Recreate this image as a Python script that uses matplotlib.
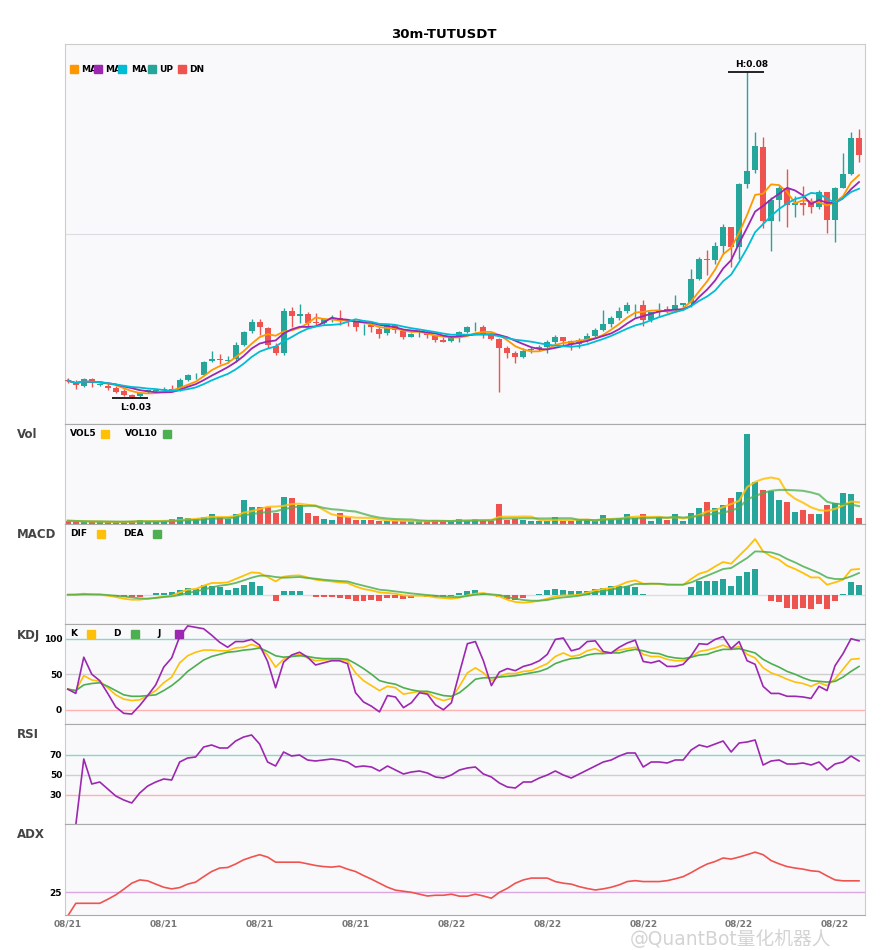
import numpy as np
import pandas as pd
import matplotlib
matplotlib.use("Agg")
import matplotlib.pyplot as plt
from matplotlib.patches import Rectangle

# ---- data (prices in 1e-4 units) ----
opens = np.array([
    326, 322, 317, 328, 318, 317, 314, 309, 303, 301,
    308, 309, 311, 312, 312, 326, 333, 334, 355, 358,
    355, 358, 380, 402, 416, 406, 378, 368, 432, 424,
    428, 415, 414, 420, 421, 418, 415, 407, 410, 404,
    398, 410, 402, 393, 398, 399, 394, 387, 386, 390,
    400, 407, 408, 396, 389, 376, 367, 362, 372, 373,
    377, 385, 393, 386, 382, 388, 394, 403, 412, 421,
    432, 441, 442, 418, 430, 435, 434, 442, 444, 482,
    512, 510, 532, 562, 531, 628, 649, 685, 571, 603,
    622, 595, 598, 600, 593, 615, 572, 622, 643, 698]) / 1e4
closes = np.array([
    325, 318, 328, 322, 320, 314, 308, 303, 300, 306,
    310, 310, 312, 311, 326, 334, 334, 354, 358, 357,
    357, 380, 400, 415, 408, 380, 368, 432, 424, 428,
    414, 414, 420, 421, 418, 417, 407, 408, 408, 397,
    410, 403, 393, 397, 399, 396, 387, 385, 390, 400,
    407, 408, 396, 389, 376, 367, 362, 371, 374, 377,
    385, 393, 386, 381, 388, 394, 403, 412, 421, 432,
    442, 442, 418, 430, 434, 433, 442, 444, 482, 512,
    510, 532, 562, 531, 628, 648, 686, 571, 603, 622,
    595, 599, 595, 593, 615, 572, 622, 643, 698, 672]) / 1e4
highs = np.array([
    329, 326, 329, 329, 322, 322, 317, 312, 305, 308,
    311, 312, 316, 319, 329, 335, 337, 355, 370, 366,
    363, 384, 402, 420, 420, 408, 383, 437, 439, 443,
    430, 429, 422, 426, 434, 420, 417, 413, 413, 407,
    411, 411, 405, 399, 403, 403, 395, 393, 393, 402,
    409, 415, 410, 399, 391, 378, 370, 375, 377, 380,
    388, 396, 393, 388, 391, 398, 406, 434, 425, 439,
    446, 443, 449, 431, 444, 440, 457, 445, 497, 516,
    526, 538, 566, 562, 630, 800, 708, 700, 608, 626,
    651, 610, 625, 606, 618, 616, 623, 675, 707, 712]) / 1e4
lows = np.array([
    322, 312, 316, 316, 317, 311, 306, 302, 298, 300,
    306, 307, 309, 309, 309, 325, 328, 333, 354, 351,
    352, 354, 378, 398, 395, 375, 364, 365, 408, 414,
    408, 409, 410, 416, 411, 409, 402, 396, 400, 391,
    395, 398, 389, 392, 393, 391, 384, 384, 384, 385,
    398, 401, 390, 388, 307, 360, 352, 360, 367, 370,
    367, 381, 379, 372, 375, 385, 392, 401, 408, 418,
    429, 423, 409, 415, 423, 429, 431, 434, 439, 480,
    488, 505, 520, 500, 513, 621, 644, 560, 525, 570,
    562, 577, 580, 583, 590, 552, 539, 621, 642, 661]) / 1e4
volume = np.array([
    33, 27, 23, 20, 23, 20, 20, 20, 33, 43,
    27, 23, 27, 47, 73, 57, 50, 73, 103, 67,
    53, 103, 243, 173, 173, 170, 113, 275, 265, 193,
    113, 83, 53, 43, 113, 67, 43, 43, 43, 33,
    27, 27, 27, 27, 27, 27, 43, 27, 27, 53,
    33, 53, 33, 33, 203, 43, 53, 43, 27, 33,
    33, 73, 33, 33, 40, 43, 27, 93, 50, 60,
    100, 60, 100, 33, 67, 43, 100, 33, 110, 160,
    223, 160, 193, 263, 323, 903, 423, 343, 333, 243,
    223, 123, 143, 103, 103, 193, 213, 313, 303, 63])

# MACD in 1e-4 units
dif = np.array([
    0, 0.3, 1, 0.3, 0, -1, -2.3, -4, -5, -5,
    -4, -3, -2, -1, 2.3, 5, 5.7, 9, 11.7, 11.7,
    12.3, 15.7, 19, 22.3, 21.7, 17.7, 13.3, 18, 19, 19.3,
    17.3, 15, 14, 13.3, 12.3, 11.7, 8.3, 5.7, 4.3, 2.3,
    1.7, 1, -0.7, -1, -1, -1.3, -2.7, -3.3, -4, -3,
    -0.7, 1, 1.7, 0, -1.7, -5, -7.3, -8, -7.3, -6,
    -4, -1.7, -0.7, -0.7, 0, 2, 4.3, 5.7, 6.7, 9.3,
    12.7, 14.3, 11, 11, 10.7, 9.7, 10, 10, 15.7, 21,
    23.3, 28.3, 32.7, 31, 39, 46.7, 55.7, 43.3, 38.3, 35,
    29, 25.7, 21.7, 17.3, 17.3, 10, 12.3, 15, 25, 25.7]) * 1e-4
dea = np.array([
    0, 0, 0.3, 0.3, 0.3, -0.3, -1, -1.7, -2.7, -3.7,
    -4, -3.3, -2.3, -1.7, -0.3, 1.7, 3.3, 5, 7.3, 9,
    10, 11.7, 14.3, 17, 19, 19, 17.7, 17, 17.3, 17.7,
    16.7, 16, 15, 14.3, 13.7, 13.3, 11, 9, 7, 5,
    4.3, 3.3, 2.3, 1.3, 0.5, -0.3, -1, -1.7, -2.3, -2.3,
    -1.3, 0, 0.7, 0.3, -0.3, -2.3, -4, -5.3, -6, -6,
    -5.3, -3.7, -2.7, -2, -1, 0.5, 2.3, 3.7, 5, 6.7,
    8.3, 10.7, 10.7, 11, 11, 10.3, 10, 10, 12.3, 15.7,
    19, 22.3, 25.7, 26.7, 31.7, 36.7, 43.3, 43, 42.3, 40,
    35.7, 32.3, 28.3, 25, 21.7, 17.3, 15.7, 15.7, 18.3, 21.7]) * 1e-4
macd_hist = np.array([
    0, 0, 0.3, 0, 0, -0.5, -2, -2, -2, -2,
    -0.3, 1.3, 2, 3, 5, 7, 5.7, 9.7, 9, 8,
    5, 7, 10, 12.3, 8.3, 0, -6.7, 3.3, 3.3, 3.3,
    0, -2.7, -2.7, -2.7, -3.7, -4.7, -6.7, -6.7, -5.7, -6.7,
    -3.7, -3.7, -4.7, -3.3, -1, -2, -2.3, -2.3, -1, 2,
    4, 5, 2, 0, -2.3, -4.7, -5.7, -3.3, -0.7, 0.7,
    4.3, 6, 5, 3.3, 3.3, 4, 5.7, 6.7, 8.3, 9,
    9, 7.7, 1, 0, 0, -0.7, 0, 0, 7.3, 13.3,
    13.3, 14, 16, 8.3, 19, 23, 26, 0, -6.7, -7.7,
    -13.7, -14.3, -13.7, -14.3, -9.3, -14.7, -6.7, 1, 13, 10]) * 1e-4

k_line = np.array([
    29, 27, 48, 42, 40, 31, 21, 15, 13, 14,
    20, 27, 38, 46, 66, 76, 81, 84, 84, 83,
    83, 87, 88, 92, 88, 77, 60, 71, 75, 78,
    73, 69, 70, 71, 71, 69, 52, 41, 34, 27,
    33, 31, 22, 24, 26, 24, 17, 13, 16, 33,
    52, 59, 52, 41, 47, 51, 51, 54, 55, 60,
    65, 75, 80, 75, 77, 83, 86, 80, 80, 84,
    86, 88, 78, 75, 75, 71, 69, 69, 74, 82,
    84, 87, 91, 86, 89, 78, 73, 59, 52, 48,
    43, 39, 37, 33, 38, 34, 43, 57, 71, 72])
d_line = np.array([
    29, 27, 35, 37, 38, 33, 27, 21, 19, 19,
    20, 21, 27, 34, 43, 54, 62, 70, 75, 78,
    81, 82, 84, 85, 87, 82, 76, 74, 75, 76,
    75, 73, 72, 72, 72, 71, 65, 58, 50, 41,
    38, 36, 31, 28, 26, 26, 23, 20, 19, 24,
    33, 43, 45, 45, 46, 47, 48, 50, 52, 54,
    58, 65, 69, 72, 73, 77, 79, 79, 80, 80,
    83, 85, 83, 80, 79, 75, 73, 72, 74, 77,
    78, 82, 85, 85, 86, 83, 80, 71, 65, 60,
    54, 50, 45, 41, 40, 39, 40, 46, 54, 61])
j_line = np.array([
    29, 23, 74, 50, 41, 23, 4, -5, -6, 6,
    20, 35, 60, 73, 103, 118, 116, 114, 105, 95,
    88, 96, 96, 99, 91, 68, 31, 67, 77, 81,
    74, 63, 66, 69, 69, 65, 24, 11, 5, -3,
    20, 18, 3, 10, 24, 22, 7, 0, 10, 52,
    93, 96, 69, 34, 53, 58, 55, 61, 64, 69,
    78, 99, 101, 83, 86, 96, 97, 82, 80, 88,
    94, 98, 68, 66, 69, 61, 61, 64, 76, 93,
    92, 99, 103, 86, 96, 69, 64, 33, 23, 23,
    19, 19, 18, 16, 33, 27, 62, 79, 100, 97])

rsi = np.array([
    np.nan, 0, 66, 41, 43, 36, 29, 25, 22, 32,
    39, 43, 46, 45, 63, 67, 68, 78, 80, 77,
    77, 84, 88, 90, 81, 63, 59, 73, 69, 70,
    65, 64, 65, 66, 65, 63, 58, 59, 58, 54,
    59, 55, 51, 53, 54, 52, 48, 47, 50, 55,
    57, 58, 51, 48, 42, 38, 37, 43, 43, 47,
    50, 54, 50, 47, 51, 55, 59, 63, 65, 69,
    72, 72, 58, 63, 63, 62, 65, 65, 75, 80,
    78, 81, 84, 73, 82, 83, 85, 60, 64, 65,
    61, 61, 62, 60, 63, 55, 61, 63, 69, 64])

adx = np.array([
    12.0, 18.9, 18.9, 18.9, 18.9, 21.1, 23.5, 26.6, 29.9, 31.7,
    31.2, 29.4, 27.7, 26.8, 27.5, 29.4, 30.5, 33.5, 36.3, 38.2,
    38.5, 40.4, 42.7, 44.2, 45.5, 44.2, 41.4, 41.4, 41.4, 41.4,
    40.5, 39.6, 39.0, 38.7, 39.2, 37.6, 36.3, 34.1, 32.1, 29.9,
    27.7, 26.1, 25.5, 24.9, 23.9, 22.9, 23.3, 23.3, 23.9, 22.8,
    22.8, 23.9, 22.9, 21.7, 24.9, 27.1, 29.9, 31.7, 32.7, 32.7,
    32.7, 30.8, 29.9, 29.4, 28.0, 27.0, 26.2, 26.8, 27.7, 29.0,
    30.8, 31.3, 30.8, 30.8, 30.8, 31.3, 32.3, 33.5, 35.7, 38.2,
    40.4, 41.8, 43.7, 43.1, 44.2, 45.5, 46.9, 45.5, 42.3, 40.5,
    39.0, 38.2, 37.6, 36.7, 36.3, 33.9, 31.7, 31.2, 31.2, 31.2])

tick_pos = [0, 12, 24, 36, 48, 60, 72, 84, 96]
tick_labels = ["08/21", "08/21", "08/21", "08/21", "08/22",
               "08/22", "08/22", "08/22", "08/22"]
ma_windows = [5, 7, 10]

# ---- styling ----
UP = "#26a69a"
DN = "#ef5350"
MA_COLORS = ["#ff9800", "#9c27b0", "#00bcd4"]
YEL = "#ffc107"
GRN = "#4caf50"
PUR = "#9c27b0"
BG = "#f9f9fb"

W, H = 885, 950
fig = plt.figure(figsize=(W / 100, H / 100), dpi=100)
fig.patch.set_facecolor("white")

n = len(closes)
x = np.arange(n)
up = closes >= opens
cols = np.where(up, UP, DN)


def rect(top, bottom):
    return [65 / W, 1 - bottom / H, 800 / W, (bottom - top) / H]


def style(ax, top_col="#aaaaaa"):
    ax.set_facecolor(BG)
    ax.set_xlim(-0.35, 99.75)
    for s in ["left", "right"]:
        ax.spines[s].set_color("#cccccc")
    ax.spines["top"].set_color(top_col)
    ax.spines["bottom"].set_color("#aaaaaa")
    ax.tick_params(length=0, labelsize=6.5, pad=2)
    ax.set_xticks([])
    for t in ax.get_yticklabels():
        t.set_fontweight("bold")


ax_k = fig.add_axes(rect(44, 424))
ax_v = fig.add_axes(rect(424, 524))
ax_m = fig.add_axes(rect(524, 624))
ax_kdj = fig.add_axes(rect(624, 724))
ax_r = fig.add_axes(rect(724, 824))
ax_a = fig.add_axes(rect(824, 915))

# candles
ax_k.vlines(x, lows, highs, colors=cols, lw=1, zorder=2)
body = np.maximum(np.abs(closes - opens), 0.0001)
ax_k.bar(x, body, bottom=np.minimum(opens, closes), width=0.75,
         color=cols, zorder=3)
cs = pd.Series(closes)
for w, c in zip(ma_windows, MA_COLORS):
    ax_k.plot(x, cs.rolling(w, min_periods=1).mean(), color=c, lw=1.3, zorder=4)

lo, hi = lows.min(), highs.max()
rng = hi - lo
ax_k.set_ylim(lo - 0.079 * rng, hi + 0.086 * rng)
ax_k.set_yticks([0.0551])
ax_k.yaxis.grid(True, color="#dcdce2", lw=0.8)
ax_k.set_axisbelow(True)
style(ax_k, top_col="#cccccc")
ax_k.set_yticklabels([])

ih, il = int(np.argmax(highs)), int(np.argmin(lows))
ax_k.hlines(hi, ih - 2.45, ih + 2.05, color="black", lw=1.2, zorder=5)
ax_k.annotate(f"H:{hi:.2f}", (ih + 0.55, hi), xytext=(0, 2.5),
              textcoords="offset points", ha="center", va="bottom",
              fontsize=6.5, fontweight="bold")
ax_k.hlines(lo, il - 2.45, il + 2.05, color="black", lw=1.2, zorder=5)
ax_k.annotate(f"L:{lo:.2f}", (il + 0.55, lo), xytext=(0, -3.5),
              textcoords="offset points", ha="center", va="top",
              fontsize=6.5, fontweight="bold")

# volume
ax_v.bar(x, volume, width=0.75, color=cols, zorder=2)
vs = pd.Series(volume, dtype=float)
ax_v.plot(x, vs.rolling(5, min_periods=1).mean(), color=YEL, lw=1.5, alpha=0.85, zorder=3)
ax_v.plot(x, vs.rolling(10, min_periods=1).mean(), color=GRN, lw=1.5, alpha=0.75, zorder=3)
ax_v.set_ylim(0, 1000)
style(ax_v)
ax_v.set_yticks([])

# macd
ax_m.axhline(0, color="#dddddd", lw=1, zorder=1)
ax_m.bar(x, macd_hist, width=0.75, color=np.where(macd_hist >= 0, UP, DN), zorder=2)
ax_m.plot(x, dif, color=YEL, lw=1.3, zorder=3)
ax_m.plot(x, dea, color=GRN, lw=1.3, alpha=0.85, zorder=3)
ax_m.set_ylim(-29.3e-4, 70.7e-4)
style(ax_m)
ax_m.set_yticks([])

# kdj
for lv, c in [(100, "#8fd3cb"), (50, "#cfcfcf"), (0, "#ffb0b0")]:
    ax_kdj.axhline(lv, color=c, lw=1, zorder=1)
ax_kdj.plot(x, k_line, color=YEL, lw=1.2, zorder=3)
ax_kdj.plot(x, d_line, color=GRN, lw=1.2, zorder=3)
ax_kdj.plot(x, j_line, color=PUR, lw=1.2, zorder=3)
ax_kdj.set_ylim(-20, 120.7)
ax_kdj.set_yticks([0, 50, 100])
style(ax_kdj)

# rsi
for lv, c in [(70, "#8fd3cb"), (50, "#cfcfcf"), (30, "#ffb0b0")]:
    ax_r.axhline(lv, color=c, lw=1, zorder=1)
ax_r.plot(x, rsi, color=PUR, lw=1.2, zorder=3)
ax_r.set_ylim(1, 101)
ax_r.set_yticks([30, 50, 70])
style(ax_r)

# adx
ax_a.axhline(25, color="#d9a8e3", lw=1, zorder=1)
ax_a.plot(x, adx, color=DN, lw=1.2, zorder=3)
ax_a.set_ylim(12.5, 62.3)
ax_a.set_yticks([25])
style(ax_a)
ax_a.set_xticks(tick_pos)
ax_a.set_xticklabels(tick_labels, fontsize=6.5, fontweight="bold", color="#777777")
ax_a.tick_params(axis="x", pad=3)

# panel names
for name, yy in [("Vol", 435), ("MACD", 535), ("KDJ", 635), ("RSI", 735), ("ADX", 835)]:
    fig.text(17 / W, 1 - yy / H, name, fontsize=8.5, fontweight="bold",
             color="#444444", ha="left", va="center")


def square(px, py, color):
    fig.patches.append(Rectangle((px / W, 1 - (py + 4) / H), 8 / W, 8 / H,
                                 transform=fig.transFigure, color=color, zorder=10))


def label(px, py, s):
    fig.text(px / W, 1 - py / H, s, fontsize=6.5, fontweight="bold",
             ha="left", va="center", zorder=9)


# legends
for sx, tx, c, s in [(70, 81, MA_COLORS[0], "MA"), (94, 105, MA_COLORS[1], "MA"),
                     (118, 131, MA_COLORS[2], "MA"), (148, 159, UP, "UP"),
                     (178, 189, DN, "DN")]:
    label(tx, 69, s)
    square(sx, 69, c)
for tx, sx, c, s, yy in [(70, 101, YEL, "VOL5", 434), (125, 163, GRN, "VOL10", 434),
                         (70, 97, YEL, "DIF", 534), (123, 153, GRN, "DEA", 534),
                         (70, 87, YEL, "K", 634), (113, 131, GRN, "D", 634),
                         (157, 175, PUR, "J", 634)]:
    label(tx, yy, s)
    square(sx, yy, c)

fig.text(444 / W, 1 - 34 / H, "30m-TUTUSDT", ha="center", va="center",
         fontsize=9.5, fontweight="bold")

# watermark, kept just below the date labels
fig.text(630 / W, 1 - 939 / H, "@QuantBot量化机器人", ha="left", va="center",
         fontsize=13.5, color="#cccccc", alpha=0.85,
         family=["DejaVu Sans", "Noto Sans CJK SC"])

fig.savefig("out.png", dpi=100, facecolor="white")
